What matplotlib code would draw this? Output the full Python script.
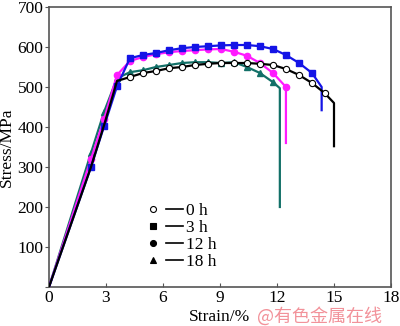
import matplotlib
matplotlib.use("Agg")
import matplotlib.pyplot as plt
from matplotlib.lines import Line2D
from matplotlib.legend_handler import HandlerTuple

plt.rcParams['font.family'] = ['Liberation Serif', 'DejaVu Serif']

# ---------------- data ----------------
labels = ["0 h", "3 h", "12 h", "18 h"]

strain_0h = [0, 2.21, 2.9, 3.58, 4.26, 4.95, 5.63, 6.32, 7.0, 7.68, 8.37, 9.05, 9.74, 10.42,
             11.1, 11.79, 12.47, 13.16, 13.84, 14.5, 15.0, 15.0]
stress_0h = [0, 300, 405, 515, 525, 535, 540, 547, 550, 555, 558, 560, 560, 560,
             558, 555, 545, 530, 510, 485, 460, 352]

strain_3h = [0, 2.21, 2.9, 3.58, 4.26, 4.95, 5.63, 6.32, 7.0, 7.68, 8.37, 9.05, 9.74, 10.42,
             11.1, 11.79, 12.47, 13.16, 13.84, 14.35, 14.35]
stress_3h = [0, 300, 402, 502, 572, 580, 585, 592, 597, 600, 602, 604, 605, 605,
             602, 595, 580, 560, 535, 500, 442]

strain_12h = [0, 2.21, 2.9, 3.58, 4.26, 4.95, 5.63, 6.32, 7.0, 7.68, 8.37, 9.05, 9.74, 10.42,
              11.1, 11.79, 12.47, 12.47]
stress_12h = [0, 320, 420, 530, 565, 575, 582, 587, 590, 592, 594, 595, 588, 578,
              560, 535, 500, 360]

strain_18h = [0, 2.21, 2.9, 3.58, 4.26, 4.95, 5.63, 6.32, 7.0, 7.68, 8.37, 9.05, 9.74, 10.42,
              11.1, 11.79, 12.15, 12.15]
stress_18h = [0, 335, 438, 522, 537, 542, 550, 555, 560, 562, 562, 560, 562, 550,
              535, 512, 497, 200]

x_ticks = [0, 3, 6, 9, 12, 15, 18]
y_ticks = [0, 100, 200, 300, 400, 500, 600, 700]

# ---------------- figure ----------------
fig = plt.figure(figsize=(4.0, 3.26), dpi=100)
ax = fig.add_axes([49 / 400, 39 / 326, 342 / 400, 280 / 326])

c0, c3, c12, c18 = "black", "#1414e6", "#ff1aff", "#127068"
lw, ms = 1.6, 4.5

ax.plot(strain_18h, stress_18h, color=c18, lw=lw, marker="^", ms=ms + 0.4,
        markevery=slice(1, -2), zorder=2)
ax.plot(strain_12h, stress_12h, color=c12, lw=lw, marker="o", ms=ms,
        markevery=slice(1, -1), zorder=3)
ax.plot(strain_3h, stress_3h, color=c3, lw=lw, marker="s", ms=ms - 0.4,
        markevery=slice(1, -2), zorder=4)
ax.plot(strain_0h, stress_0h, color=c0, lw=lw, marker="o", ms=ms,
        markerfacecolor="white", markeredgecolor="black", markeredgewidth=0.8,
        markevery=slice(4, -2), zorder=5)

ax.set_xlim(0, 18)
ax.set_ylim(0, 700)
ax.set_xticks(x_ticks)
ax.set_yticks(y_ticks)
ax.set_yticklabels([""] + [str(v) for v in y_ticks[1:]])

spine_col = "#555555"
for s in ax.spines.values():
    s.set_color(spine_col)
    s.set_linewidth(1.2)
ax.tick_params(axis="x", direction="in", length=3, width=0.8, color=spine_col,
               labelsize=12.5, pad=2)
ax.tick_params(axis="y", direction="out", length=3, width=0.8, color=spine_col,
               labelsize=12.5, pad=1)

ax.set_xlabel("Strain/%", fontsize=12.5, labelpad=2)
ax.set_ylabel("Stress/MPa", fontsize=12.5, labelpad=2)

# legend: marker then line
markers = [("o", "white"), ("s", "black"), ("o", "black"), ("^", "black")]
handles = []
for m, fc in markers:
    mk = Line2D([], [], linestyle="none", marker=m, ms=4.3, markerfacecolor=fc,
                markeredgecolor="black", markeredgewidth=0.8)
    ln = Line2D([], [], color="black", lw=1.2)
    handles.append((mk, ln))
leg = ax.legend(handles, labels, handler_map={tuple: HandlerTuple(ndivide=None, pad=0.3)},
                loc="upper left", bbox_to_anchor=(0.28, 0.30), frameon=False,
                fontsize=12.5, handlelength=2.2, handletextpad=0.2,
                labelspacing=0.05, borderpad=0, borderaxespad=0)

# watermark
fig.text(0.642, 0.012, "@有色金属在线", fontsize=13, color="#f07f88", alpha=0.85,
         family=["Noto Sans CJK SC", "DejaVu Sans"])

fig.savefig("out.png", dpi=100)
